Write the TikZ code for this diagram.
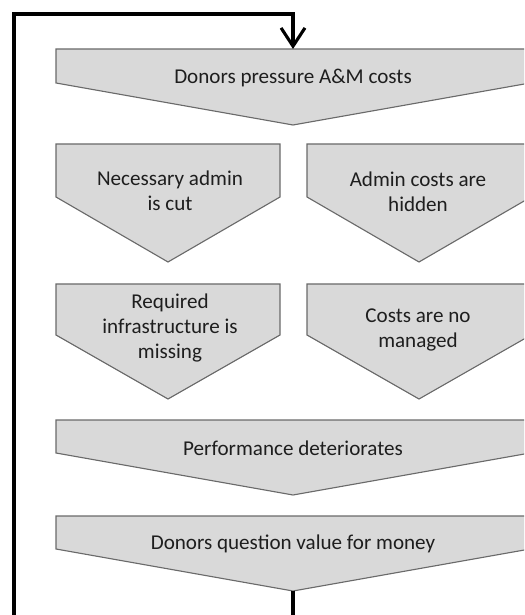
\documentclass[tikz,border=0pt]{standalone}
\usepackage{fontspec}
\setmainfont{Carlito}
\usepackage{xcolor}
\usetikzlibrary{arrows.meta}
\definecolor{boxgray}{HTML}{D9D9D9}
\definecolor{edgegray}{HTML}{6A6A6A}
\definecolor{txtgray}{HTML}{1E1E1E}
\tikzset{
  box/.style={fill=boxgray, draw=edgegray, line width=0.8pt, line join=miter},
  lbl/.style={text=txtgray, align=center, font=\fontsize{15}{17.8}\selectfont},
  loopline/.style={line width=2.2pt, line join=miter}
}
\begin{document}
\begin{tikzpicture}[x=0.025cm, y=-0.025cm]
            \clip (0,0) rectangle (524,615);

            %Shapes
            \filldraw[box] (56,49) -- (530,49) -- (530,83) -- (293,125) -- (56,83) -- cycle;
            \filldraw[box] (56,144) -- (280,144) -- (280,197) -- (168,262) -- (56,197) -- cycle;
            \filldraw[box] (307,144) -- (531,144) -- (531,197) -- (419,262) -- (307,197) -- cycle;
            \filldraw[box] (56,284) -- (280,284) -- (280,335) -- (168,399) -- (56,335) -- cycle;
            \filldraw[box] (307,284) -- (531,284) -- (531,335) -- (419,399) -- (307,335) -- cycle;
            \filldraw[box] (56,420) -- (530,420) -- (530,453) -- (293,495) -- (56,453) -- cycle;
            \filldraw[box] (56,516) -- (530,516) -- (530,549) -- (293,591) -- (56,549) -- cycle;

            %Nodes
            \node[lbl] at (293,78) (pressure) {Donors pressure A\&M costs};
            \node[lbl] at (170,191) (cut) {Necessary admin\\is cut};
            \node[lbl] at (418,192) (hidden) {Admin costs are\\hidden};
            \node[lbl] at (170,328) (missing) {Required\\infrastructure is\\missing};
            \node[lbl] at (418,330) (managed) {Costs are no\\managed};
            \node[lbl] at (293,448) (perf) {Performance deteriorates};
            \node[lbl] at (293,544) (value) {Donors question value for money};

            \coordinate (top) at (293,49);
            \coordinate (tip) at (293,591);
            \coordinate (bl) at (14,618);
            \coordinate (tl) at (14,14);

            %Lines
            \draw[loopline, -{Straight Barb[length=13pt, width=17pt]}] (tip) |- (bl) -- (tl) -| (top);
        \end{tikzpicture}
\end{document}
